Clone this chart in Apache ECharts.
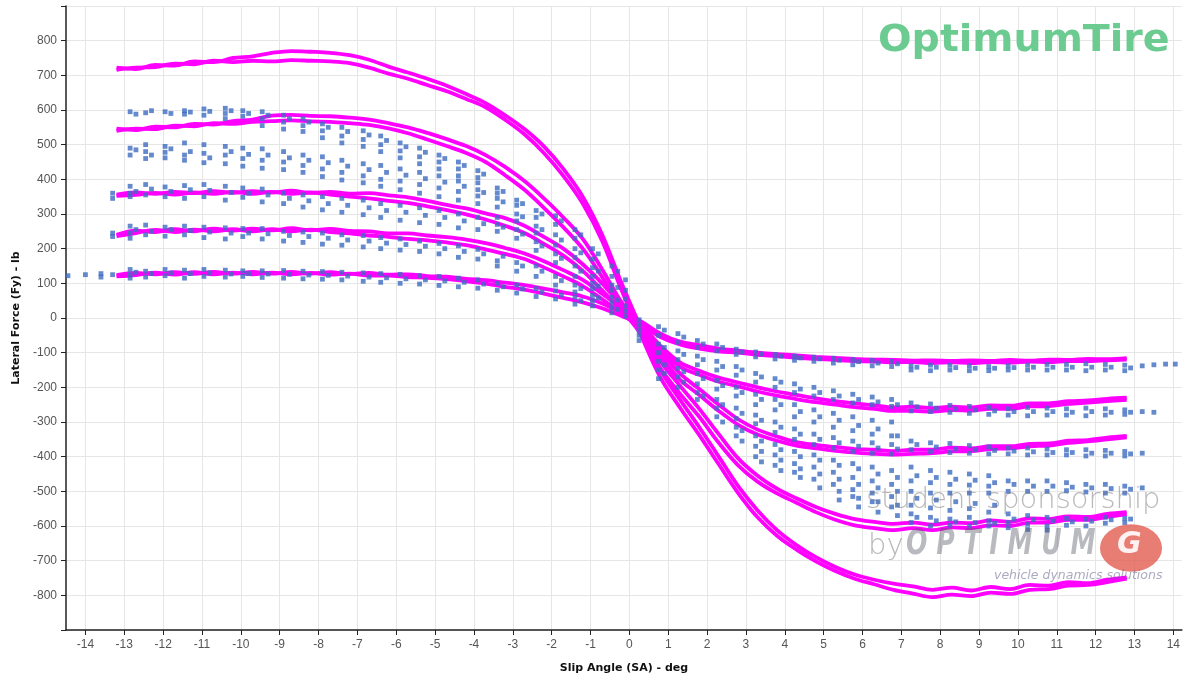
<!DOCTYPE html>
<html>
<head>
<meta charset="utf-8">
<script src="https://cdn.jsdelivr.net/npm/echarts@6/dist/echarts.min.js"></script>
<style>html,body{margin:0;padding:0;background:#fff}#c{width:1183px;height:679px}</style>
</head>
<body>
<div id="c"></div>
<script>
// ---- data ----
const xTicks = [-14,-13,-12,-11,-10,-9,-8,-7,-6,-5,-4,-3,-2,-1,0,1,2,3,4,5,6,7,8,9,10,11,12,13,14];
const saGrid = [-13.2,-12.7,-12.2,-11.7,-11.2,-10.7,-10.2,-9.7,-9.2,-8.7,-8.2,-7.7,-7.2,-6.7,-6.2,-5.7,-5.2,-4.7,-4.2,-3.7,-3.2,-2.7,-2.2,-1.7,-1.2,-0.7,-0.2,
  0.3,0.8,1.3,1.8,2.3,2.8,3.3,3.8,4.3,4.8,5.3,5.8,6.3,6.8,7.3,7.8,8.3,8.8,9.3,9.8,10.3,10.8,11.3,11.8,12.3,12.8];

// model curves (two traces of each loop)
const fy1A = [722,718,730,728,740,738,750,755,765,770,768,765,758,745,725,708,690,670,646,620,585,545,495,430,350,240,100,
  -30,-150,-235,-315,-400,-485,-555,-612,-655,-690,-718,-740,-755,-766,-774,-784,-778,-786,-776,-782,-770,-772,-762,-765,-755,-748];
const fy1B = [716,722,724,734,732,742,738,742,740,744,742,740,735,722,705,690,672,654,632,608,572,530,476,410,330,222,80,
  -50,-172,-258,-338,-422,-505,-575,-628,-668,-702,-730,-752,-768,-784,-795,-805,-798,-802,-792,-796,-784,-782,-772,-770,-762,-752];
const fy2A = [546,542,552,550,560,558,568,572,584,586,583,582,578,572,562,550,534,516,496,470,436,395,345,290,228,140,45,
  -30,-125,-195,-262,-335,-405,-455,-492,-520,-545,-565,-580,-588,-594,-590,-596,-590,-592,-584,-588,-578,-580,-572,-574,-565,-560];
const fy2B = [540,546,545,555,553,562,560,566,568,570,567,566,562,557,547,533,515,496,476,450,412,370,318,262,200,118,28,
  -48,-145,-218,-285,-360,-425,-472,-506,-533,-560,-582,-598,-606,-612,-606,-612,-604,-606,-598,-600,-590,-590,-582,-582,-574,-566];
const fy3A = [356,362,358,364,360,366,361,366,362,367,361,364,359,360,354,348,338,326,316,302,288,266,234,200,155,100,35,
  -25,-95,-160,-205,-250,-292,-322,-342,-358,-366,-372,-378,-380,-384,-380,-380,-374,-376,-370,-370,-363,-362,-354,-352,-345,-340];
const fy3B = [352,355,361,356,362,358,364,358,364,358,362,356,350,345,338,332,322,311,299,284,266,245,214,180,136,80,20,
  -40,-110,-178,-222,-268,-308,-336,-354,-368,-376,-383,-388,-392,-394,-392,-390,-385,-384,-378,-376,-370,-368,-360,-356,-350,-344];
const fy4A = [240,252,248,256,250,258,252,258,253,259,253,257,251,250,244,244,238,233,226,216,202,186,164,138,110,70,28,
  -18,-80,-128,-152,-172,-186,-200,-212,-222,-232,-240,-246,-252,-258,-256,-260,-256,-258,-252,-253,-246,-246,-240,-238,-233,-230];
const fy4B = [236,245,254,248,255,250,256,250,256,250,255,248,244,238,234,228,224,218,210,198,185,170,146,120,92,54,12,
  -30,-92,-140,-164,-184,-197,-212,-224,-234,-243,-250,-257,-262,-268,-268,-270,-266,-267,-262,-262,-255,-254,-248,-244,-240,-236];
const fy5A = [124,130,126,132,127,133,128,133,128,133,128,132,127,130,125,126,121,119,113,109,102,95,85,74,62,42,16,
  -10,-45,-68,-78,-88,-94,-100,-104,-108,-112,-115,-118,-120,-121,-123,-122,-124,-122,-124,-121,-123,-120,-121,-118,-119,-116];
const fy5B = [120,124,131,125,132,126,131,126,131,126,130,125,128,122,122,118,116,112,106,99,90,82,70,58,45,28,6,
  -18,-55,-76,-88,-96,-100,-106,-110,-115,-118,-121,-124,-126,-128,-127,-130,-128,-130,-127,-129,-126,-127,-124,-124,-122,-120];

// measured test points, grouped by slip-angle column
const dotSA = [-14.45,-14.0,-13.6,-13.3,-12.85,-12.45,-11.95,-11.45,-10.95,-10.4,-9.95,-9.45,-8.9,-8.4,-7.9,-7.4,-6.85,-6.4,-5.9,-5.4,-4.9,-4.4,-3.9,-3.4,-2.9,-2.4,-1.9,-1.4,-0.95,-0.45,-0.1,
  0.25,0.75,1.25,1.75,2.25,2.75,3.25,3.75,4.25,4.75,5.25,5.75,6.25,6.75,7.25,7.75,8.25,8.75,9.25,9.75,10.25,10.75,11.25,11.75,12.25,12.75,13.2,13.5,13.8,14.05];
const dotFy = [
  [122],[125],[128,118],[360,345,245,235,125],
  [595,490,470,380,360,350,265,245,230,140,125,115],
  [592,500,480,460,385,355,268,240,135,118],
  [595,495,478,462,378,350,262,236,140,122],
  [598,588,505,470,455,382,345,265,240,138,115],
  [603,585,500,475,448,385,350,262,232,140,120],
  [605,590,575,495,470,445,380,340,260,228,138,118],
  [598,582,490,460,438,375,348,258,235,136,120],
  [595,575,555,488,455,432,372,335,258,228,136,117],
  [585,565,545,480,450,428,360,330,250,222,137,115],
  [575,555,538,470,440,420,355,320,248,218,135,113],
  [560,540,520,465,430,408,350,312,245,213,134,112],
  [550,525,505,455,420,398,345,305,240,210,132,110],
  [540,515,495,445,410,390,340,298,238,205,130,106],
  [525,500,480,440,400,380,330,290,232,200,128,103],
  [505,482,462,430,395,370,325,282,228,196,126,100],
  [490,465,445,420,385,360,318,275,222,192,122,98],
  [470,450,430,410,375,350,310,270,215,185,120,94],
  [450,430,410,395,365,340,300,260,208,175,115,90],
  [425,405,390,370,352,330,290,255,198,170,110,86],
  [375,360,345,320,290,270,250,165,150,100,80],
  [340,325,300,280,255,230,160,135,95,72],
  [310,290,265,245,220,195,150,120,85,62],
  [295,270,240,210,185,160,120,95,78,55],
  [255,230,200,175,150,120,95,75,60,40],
  [200,170,145,120,100,85,65,50,35],
  [150,120,95,80,60,45,30,15],
  [110,80,55,35,20,5],
  [-5,-20,-35,-50,-65],
  [-25,-50,-75,-100,-125,-150,-175],
  [-45,-70,-95,-120,-145,-170,-200],
  [-65,-85,-110,-135,-160,-190,-215,-235],
  [-75,-95,-125,-150,-180,-205,-235,-260,-285],
  [-90,-105,-140,-165,-200,-225,-260,-290,-315,-340],
  [-98,-112,-160,-185,-220,-250,-280,-305,-340,-370,-400],
  [-105,-118,-175,-200,-235,-265,-300,-330,-365,-395,-425],
  [-110,-122,-190,-215,-250,-285,-320,-350,-385,-420,-445],
  [-113,-125,-200,-225,-265,-300,-335,-365,-395,-430,-465],
  [-116,-130,-210,-235,-275,-315,-345,-375,-410,-445,-480],
  [-120,-135,-220,-245,-285,-325,-355,-385,-420,-460,-495,-515],
  [-122,-138,-228,-250,-295,-335,-360,-390,-430,-470,-505,-530],
  [-125,-140,-235,-255,-300,-340,-365,-392,-440,-480,-515,-545],
  [-138,-150,-245,-268,-355,-380,-430,-470,-500,-540,-565,-590],
  [-136,-152,-248,-270,-360,-385,-440,-475,-505,-548,-575,-600],
  [-136,-150,-252,-272,-362,-388,-445,-480,-505,-555,-580,-598],
  [-138,-152,-255,-275,-368,-390,-450,-482,-505,-550,-575,-600],
  [-140,-152,-258,-278,-372,-392,-455,-485,-505,-560,-585,-600],
  [-138,-150,-262,-280,-375,-392,-470,-500,-565,-590,-605],
  [-136,-150,-258,-282,-375,-395,-470,-500,-570,-595,-610],
  [-134,-150,-260,-280,-378,-395,-470,-500,-575,-600,-612],
  [-134,-150,-262,-280,-380,-395,-475,-498,-578,-598],
  [-132,-152,-260,-282,-380,-398,-480,-502,-580,-600],
  [-134,-150,-262,-280,-382,-398,-480,-505,-575,-592],
  [-136,-152,-265,-278,-385,-398,-485,-505,-578,-590],
  [-138,-270,-390,-490],
  [-135,-272],
  [-133],
  [-133]
];
// second, slightly offset point of each cluster
const dotSA2 = [-12.7,-12.3,-11.8,-11.3,-10.8,-10.25,-9.8,-9.3,-8.75,-8.25,-7.75,-7.25,-6.7,-6.25,-5.75,-5.25,-4.75,-4.25,-3.75,-3.25,-2.75,-2.25,-1.75,-1.25,-0.8,-0.3,
  0.9,1.4,1.9,2.4,2.9,3.4,3.9,4.4,4.9,5.4,5.9,6.4,6.9,7.4,7.9,8.4,8.9,9.4,9.9,10.4,10.9,11.4,11.9,12.4,12.9];
const dotFy2 = [
  [588,485,365,255,132],[598,470,372,250,128],[590,488,365,255,130],[594,480,370,252,128],
  [596,462,368,248,130],[598,480,362,245,127],[590,472,360,245,128],[585,470,355,243,127],
  [575,462,345,238,126],[565,455,338,235,124],[550,448,330,230,123],[538,438,325,225,121],
  [528,428,318,222,118],[512,420,310,216,116],[494,412,305,212,113],[478,402,296,207,110],
  [460,392,290,200,107],[440,380,280,192,103],[415,362,272,185,98],[365,335,262,178,90],
  [330,292,242,150,84],[300,255,208,135,75],[280,225,172,108,66],[240,188,135,85,50],
  [185,135,92,58],[135,88,52,25],
  [-35,-85,-135,-160],[-55,-105,-155,-185],[-75,-120,-175,-225],[-85,-140,-195,-250,-300],
  [-98,-150,-215,-275,-325,-355],[-104,-170,-235,-295,-355,-385,-415],[-110,-185,-250,-315,-380,-410,-440],
  [-115,-205,-270,-335,-400,-435,-460],[-118,-215,-285,-350,-410,-450,-490],[-122,-225,-295,-360,-425,-465,-500,-525],
  [-126,-235,-310,-370,-435,-480,-520,-545],[-130,-242,-320,-375,-450,-490,-530,-560],[-132,-250,-340,-378,-460,-500,-540,-570],
  [-142,-256,-365,-455,-520,-575],[-142,-260,-372,-460,-525,-585],[-143,-262,-378,-465,-530,-588],
  [-145,-265,-380,-468,-535,-590],[-145,-268,-382,-475,-540,-592],[-143,-270,-384,-480,-580],
  [-142,-270,-386,-485,-582],[-142,-270,-388,-485,-585],[-142,-272,-388,-488,-588],
  [-142,-270,-390,-490,-586],[-142,-272,-390,-492,-582],[-144,-272,-392,-494,-580]
];

// ---- build ----
const curveTraces = [fy1A, fy1B, fy2A, fy2B, fy3A, fy3B, fy4A, fy4B, fy5A, fy5B];
const lineSeries = curveTraces.map(arr => ({
  type: 'line',
  data: saGrid.map((sa, i) => [sa, arr[i]]),
  showSymbol: false,
  smooth: 0.35,
  lineStyle: { color: '#ff00ff', width: 3.8 },
  z: 2,
  silent: true
}));
const dots = [];
dotSA.forEach((sa, i) => dotFy[i].forEach(v => dots.push([sa, v])));
dotSA2.forEach((sa, i) => dotFy2[i].forEach(v => dots.push([sa, v])));

const labelFont = 'Liberation Sans';
const chart = echarts.init(document.getElementById('c'), null, { renderer: 'canvas' });
chart.setOption({
  animation: false,
  backgroundColor: '#ffffff',
  grid: { left: 66, right: 0, top: 6, bottom: 46, containLabel: false },
  xAxis: {
    type: 'value', min: -14.5, max: 14.22,
    name: 'Slip Angle (SA) - deg', nameLocation: 'middle', nameGap: 33,
    nameTextStyle: { fontFamily: 'DejaVu Sans', fontWeight: 'bold', fontSize: 11, color: '#111' },
    axisLine: { onZero: false, lineStyle: { color: '#222', width: 1.5 } },
    axisTick: { show: true, length: 5, customValues: xTicks, lineStyle: { color: '#222' } },
    axisLabel: { customValues: xTicks, fontFamily: labelFont, fontSize: 12, color: '#555', margin: 9 },
    splitLine: { show: true, lineStyle: { color: '#e6e6e6', width: 1 } }
  },
  yAxis: {
    type: 'value', min: -900, max: 900, interval: 100,
    name: 'Lateral Force (Fy) - lb', nameLocation: 'middle', nameGap: 42, nameRotate: 90,
    nameTextStyle: { fontFamily: 'DejaVu Sans', fontWeight: 'bold', fontSize: 11, color: '#111' },
    axisLine: { onZero: false, lineStyle: { color: '#222', width: 1.5 } },
    axisTick: { show: true, length: 5, lineStyle: { color: '#222' } },
    axisLabel: { fontFamily: labelFont, fontSize: 12, color: '#555', margin: 9,
      formatter: v => (Math.abs(v) >= 900 ? '' : String(v)) },
    splitLine: { show: true, lineStyle: { color: '#e6e6e6', width: 1 } }
  },
  series: lineSeries.concat([{
    type: 'scatter',
    data: dots,
    symbol: 'rect',
    symbolSize: 4.8,
    itemStyle: { color: '#3d6cc0' },
    z: 3,
    silent: true
  }]),
  graphic: [
    { type: 'text', left: 878, top: 22, z: 10, scaleX: 1.04,
      style: { text: 'OptimumTire', fill: '#6ccb90', font: 'bold 38px "DejaVu Sans"' } },
    { type: 'text', left: 866, top: 486, z: 10,
      style: { text: 'student sponsorship', fill: 'rgba(115,115,115,0.5)', font: '200 29px "DejaVu Sans"' } },
    { type: 'text', left: 868, top: 532, z: 10,
      style: { text: 'by', fill: 'rgba(115,115,115,0.5)', font: '200 29px "DejaVu Sans"' } },
    { type: 'text', left: 906, top: 527, z: 10, scaleY: 1.25,
      style: { text: 'O P T I M U M', fill: 'rgba(85,90,105,0.42)', font: 'italic bold 28px "DejaVu Sans Condensed"' } },
    { type: 'circle', z: 10, x: 1131, y: 548, scaleX: 1.15, scaleY: 0.88,
      shape: { cx: 0, cy: 0, r: 27 }, style: { fill: 'rgba(226,88,76,0.78)' } },
    { type: 'text', z: 11, left: 1117, top: 530,
      style: { text: 'G', fill: 'rgba(255,255,255,0.9)', font: 'italic bold 30px "DejaVu Sans"' } },
    { type: 'text', left: 994, top: 569, z: 10,
      style: { text: 'vehicle dynamics solutions', fill: 'rgba(100,100,140,0.55)', font: 'italic 12.5px "DejaVu Sans"' } }
  ]
});
</script>
</body>
</html>
